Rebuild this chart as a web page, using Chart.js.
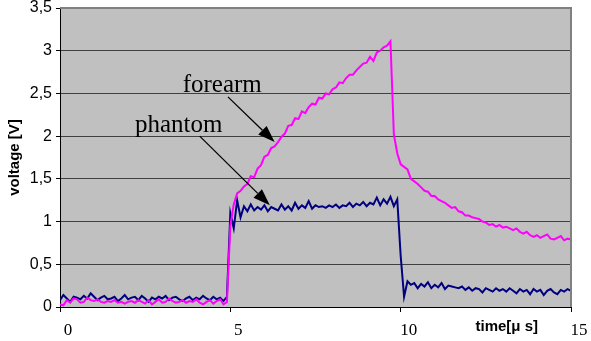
<!DOCTYPE html>
<html>
<head>
<meta charset="utf-8">
<script src="https://cdn.jsdelivr.net/npm/chart.js@4.4.0/dist/chart.umd.min.js"></script>
<style>
  body { margin: 0; background: #fff; }
  #wrap { width: 591px; height: 341px; }
</style>
</head>
<body>
<div id="wrap"><canvas id="myChart" width="591" height="341"></canvas></div>
<script>
// time axis (µs)
var times = [
  0.0,0.1,0.2,0.3,0.4,0.5,0.6,0.7,0.8,0.9,
  1.0,1.1,1.2,1.3,1.4,1.5,1.6,1.7,1.8,1.9,
  2.0,2.1,2.2,2.3,2.4,2.5,2.6,2.7,2.8,2.9,
  3.0,3.1,3.2,3.3,3.4,3.5,3.6,3.7,3.8,3.9,
  4.0,4.1,4.2,4.3,4.4,4.5,4.6,4.7,4.8,4.9,
  5.0,5.1,5.2,5.3,5.4,5.5,5.6,5.7,5.8,5.9,
  6.0,6.1,6.2,6.3,6.4,6.5,6.6,6.7,6.8,6.9,
  7.0,7.1,7.2,7.3,7.4,7.5,7.6,7.7,7.8,7.9,
  8.0,8.1,8.2,8.3,8.4,8.5,8.6,8.7,8.8,8.9,
  9.0,9.1,9.2,9.3,9.4,9.5,9.6,9.7,9.8,9.9,
  10.0,10.1,10.2,10.3,10.4,10.5,10.6,10.7,10.8,10.9,
  11.0,11.1,11.2,11.3,11.4,11.5,11.6,11.7,11.8,11.9,
  12.0,12.1,12.2,12.3,12.4,12.5,12.6,12.7,12.8,12.9,
  13.0,13.1,13.2,13.3,13.4,13.5,13.6,13.7,13.8,13.9,
  14.0,14.1,14.2,14.3,14.4,14.5,14.6,14.7,14.8,14.9,
  15.0
];

// forearm voltage [V]
var forearm = [
  0.03,0.02,0.08,0.05,0.10,0.09,0.05,0.06,0.11,0.08,
  0.07,0.09,0.06,0.05,0.07,0.06,0.08,0.05,0.06,0.04,
  0.06,0.07,0.05,0.08,0.06,0.04,0.08,0.03,0.06,0.09,
  0.05,0.06,0.10,0.07,0.05,0.06,0.08,0.05,0.07,0.06,
  0.09,0.05,0.03,0.06,0.08,0.04,0.07,0.09,0.03,0.06,
  0.95,1.20,1.33,1.36,1.41,1.44,1.53,1.52,1.62,1.66,
  1.76,1.78,1.86,1.88,1.93,1.99,2.03,2.12,2.13,2.21,
  2.20,2.29,2.27,2.34,2.38,2.37,2.45,2.44,2.50,2.49,
  2.55,2.57,2.63,2.62,2.68,2.72,2.72,2.77,2.81,2.85,
  2.86,2.93,2.88,2.98,3.00,3.04,3.06,3.11,2.02,1.80,
  1.67,1.64,1.61,1.50,1.47,1.44,1.40,1.36,1.35,1.30,
  1.30,1.26,1.24,1.22,1.19,1.16,1.17,1.12,1.11,1.07,
  1.07,1.05,1.04,1.03,1.00,0.99,0.96,0.97,0.94,0.96,
  0.93,0.94,0.92,0.90,0.92,0.88,0.86,0.88,0.84,0.82,
  0.84,0.81,0.83,0.85,0.80,0.79,0.81,0.83,0.78,0.80,
  0.79
];

// phantom voltage [V]
var phantom = [
  0.08,0.14,0.10,0.06,0.12,0.11,0.09,0.13,0.10,0.16,
  0.12,0.08,0.11,0.13,0.09,0.10,0.12,0.07,0.10,0.14,
  0.09,0.11,0.12,0.08,0.13,0.10,0.06,0.11,0.09,0.12,
  0.10,0.13,0.08,0.11,0.12,0.09,0.07,0.10,0.12,0.08,
  0.11,0.09,0.13,0.10,0.08,0.12,0.09,0.11,0.07,0.12,
  1.10,0.92,1.25,1.05,1.18,1.12,1.20,1.13,1.17,1.14,
  1.19,1.12,1.17,1.15,1.13,1.20,1.14,1.18,1.13,1.22,
  1.15,1.19,1.16,1.24,1.15,1.19,1.17,1.18,1.16,1.19,
  1.17,1.20,1.16,1.19,1.18,1.22,1.17,1.21,1.19,1.23,
  1.18,1.22,1.20,1.28,1.19,1.26,1.21,1.29,1.18,1.26,
  0.60,0.12,0.30,0.26,0.28,0.22,0.27,0.24,0.29,0.22,
  0.26,0.23,0.28,0.21,0.25,0.24,0.23,0.22,0.24,0.20,
  0.23,0.19,0.22,0.21,0.17,0.22,0.20,0.18,0.22,0.19,
  0.21,0.18,0.22,0.19,0.16,0.21,0.18,0.20,0.15,0.21,
  0.18,0.20,0.14,0.19,0.21,0.17,0.15,0.20,0.18,0.21,
  0.19
];

var xTickLabels = ["0","5","10","15"];
var yTickLabels = ["0","0,5","1","1,5","2","2,5","3","3,5"];

function pts(arr){
  return arr.map(function(v,i){ return {x: times[i], y: v}; });
}

// gray plot area + border on top/right
var plotBg = {
  id: 'plotBg',
  beforeDraw: function(chart){
    var c = chart.ctx, a = chart.chartArea;
    c.save();
    c.fillStyle = '#C0C0C0';
    c.fillRect(a.left, a.top, a.right - a.left, a.bottom - a.top);
    c.restore();
  },
  afterDraw: function(chart){
    var c = chart.ctx, a = chart.chartArea;
    c.save();
    c.strokeStyle = '#808080';
    c.lineWidth = 2;
    c.beginPath();
    c.moveTo(a.left, a.top);
    c.lineTo(a.right, a.top);
    c.lineTo(a.right, a.bottom);
    c.stroke();
    c.restore();
  }
};

function arrow(c, x1, y1, x2, y2){
  var ang = Math.atan2(y2 - y1, x2 - x1);
  var L = 17, W = 6;
  var bx = x2 - L * Math.cos(ang), by = y2 - L * Math.sin(ang);
  c.beginPath();
  c.moveTo(x1, y1);
  c.lineTo(bx, by);
  c.stroke();
  c.beginPath();
  c.moveTo(x2, y2);
  c.lineTo(bx + W * Math.sin(ang), by - W * Math.cos(ang));
  c.lineTo(bx - W * Math.sin(ang), by + W * Math.cos(ang));
  c.closePath();
  c.fill();
}

var notes = {
  id: 'notes',
  afterDraw: function(chart){
    var c = chart.ctx, xs = chart.scales.x, ys = chart.scales.y;
    var px = function(v){ return xs.getPixelForValue(v); };
    var py = function(v){ return ys.getPixelForValue(v); };
    c.save();
    c.fillStyle = '#000';
    c.strokeStyle = '#000';
    c.lineWidth = 1.3;
    c.font = '25px "Liberation Serif"';
    c.textBaseline = 'alphabetic';
    c.textAlign = 'left';
    c.fillText('forearm', px(3.6), py(2.52));
    c.fillText('phantom', px(2.2), py(2.05));
    arrow(c, px(4.93), py(2.46), px(6.3), py(1.93));
    arrow(c, px(4.1), py(2.0), px(6.16), py(1.19));
    c.font = 'bold 15px "Liberation Sans"';
    c.textAlign = 'right';
    c.fillText('time[\u03bc s]', chart.chartArea.right - 33, 331);
    c.restore();
  }
};

var ctx = document.getElementById("myChart");
var myChart = new Chart(ctx, {
  type: 'line',
  data: {
    datasets: [{
      label: 'forearm',
      data: pts(forearm),
      borderColor: '#FF00FF',
      borderWidth: 2,
      pointRadius: 0,
      tension: 0,
      fill: false
    }, {
      label: 'phantom',
      data: pts(phantom),
      borderColor: '#000080',
      borderWidth: 2,
      pointRadius: 0,
      tension: 0,
      fill: false
    }]
  },
  options: {
    responsive: false,
    animation: false,
    layout: { padding: { left: 0, right: 20, top: 8, bottom: 0 } },
    plugins: { legend: { display: false }, tooltip: { enabled: false } },
    scales: {
      x: {
        type: 'linear',
        min: 0, max: 15,
        afterFit: function(s){ s.height = 34; },
        ticks: {
          stepSize: 5,
          maxRotation: 0,
          labelOffset: 8,
          padding: 8,
          color: '#000',
          font: { family: 'Liberation Serif', size: 17 },
          callback: function(v, i){ return xTickLabels[i]; }
        },
        grid: { drawOnChartArea: false, drawTicks: true, tickLength: 5, tickColor: '#000' },
        border: { color: '#000', width: 1 }
      },
      y: {
        min: 0, max: 3.5,
        afterFit: function(s){ s.width = 60; s.paddingTop = 0; s.paddingBottom = 0; },
        ticks: {
          stepSize: 0.5,
          padding: 4,
          color: '#000',
          font: { family: 'Liberation Sans', size: 16 },
          callback: function(v, i){ return yTickLabels[i]; }
        },
        grid: {
          color: function(c){ return c.tick && c.tick.value === 3.5 ? '#808080' : '#404040'; },
          lineWidth: 1,
          tickLength: 4,
          tickColor: '#000'
        },
        border: { color: '#000', width: 1 },
        title: {
          display: true,
          text: 'voltage [V]',
          color: '#000',
          font: { family: 'Liberation Sans', size: 15, weight: 'bold' },
          padding: { top: 6, bottom: 0 }
        }
      }
    }
  },
  plugins: [plotBg, notes]
});
</script>
</body>
</html>
